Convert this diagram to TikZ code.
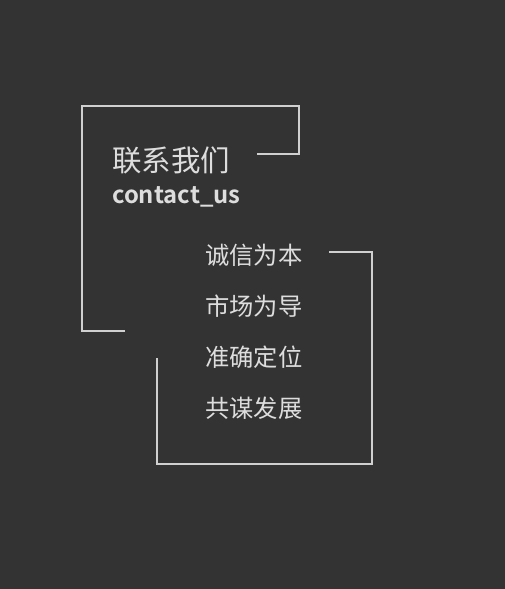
\documentclass[tikz,border=0pt]{standalone}
\usepackage{fontspec}
\newfontfamily\cjk{Noto Sans CJK SC}
\newfontfamily\cjkbold{Noto Sans CJK SC Bold}
\definecolor{bgdark}{HTML}{333333}
\definecolor{linegray}{HTML}{D0D0D0}
\definecolor{textgray}{HTML}{DDDDDD}

\begin{document}
\begin{tikzpicture}[x=1pt, y=-1pt]
  \tikzset{every node/.style={inner sep=0pt, anchor=west, text=textgray},
    frameline/.style={draw=linegray, line width=1.5pt},
    motto/.style={font=\cjk\fontsize{24.3}{24}\selectfont}}
  \fill[bgdark] (0,0) rectangle (505,589);
  % upper frame
  \coordinate (ua) at (125,331);
  \coordinate (ub) at (257,154);
  \draw[frameline] (ua) -| (82,106) -| (299,154) -- (ub);
  % lower frame
  \coordinate (la) at (329,252);
  \coordinate (lb) at (157,358);
  \draw[frameline] (la) -| (372,464) -| (lb);
  % titles
  \node (title) at (112,160) {\cjk\fontsize{29.5}{30}\selectfont 联系我们};
  \node (subtitle) at (112,197) {\cjkbold\fontsize{23.8}{24}\selectfont contact\_us};
  % mottos
  \node[motto] (m1) at (205,255) {诚信为本};
  \node[motto] (m2) at (205,306) {市场为导};
  \node[motto] (m3) at (205,357) {准确定位};
  \node[motto] (m4) at (205,408) {共谋发展};
\end{tikzpicture}
\end{document}
